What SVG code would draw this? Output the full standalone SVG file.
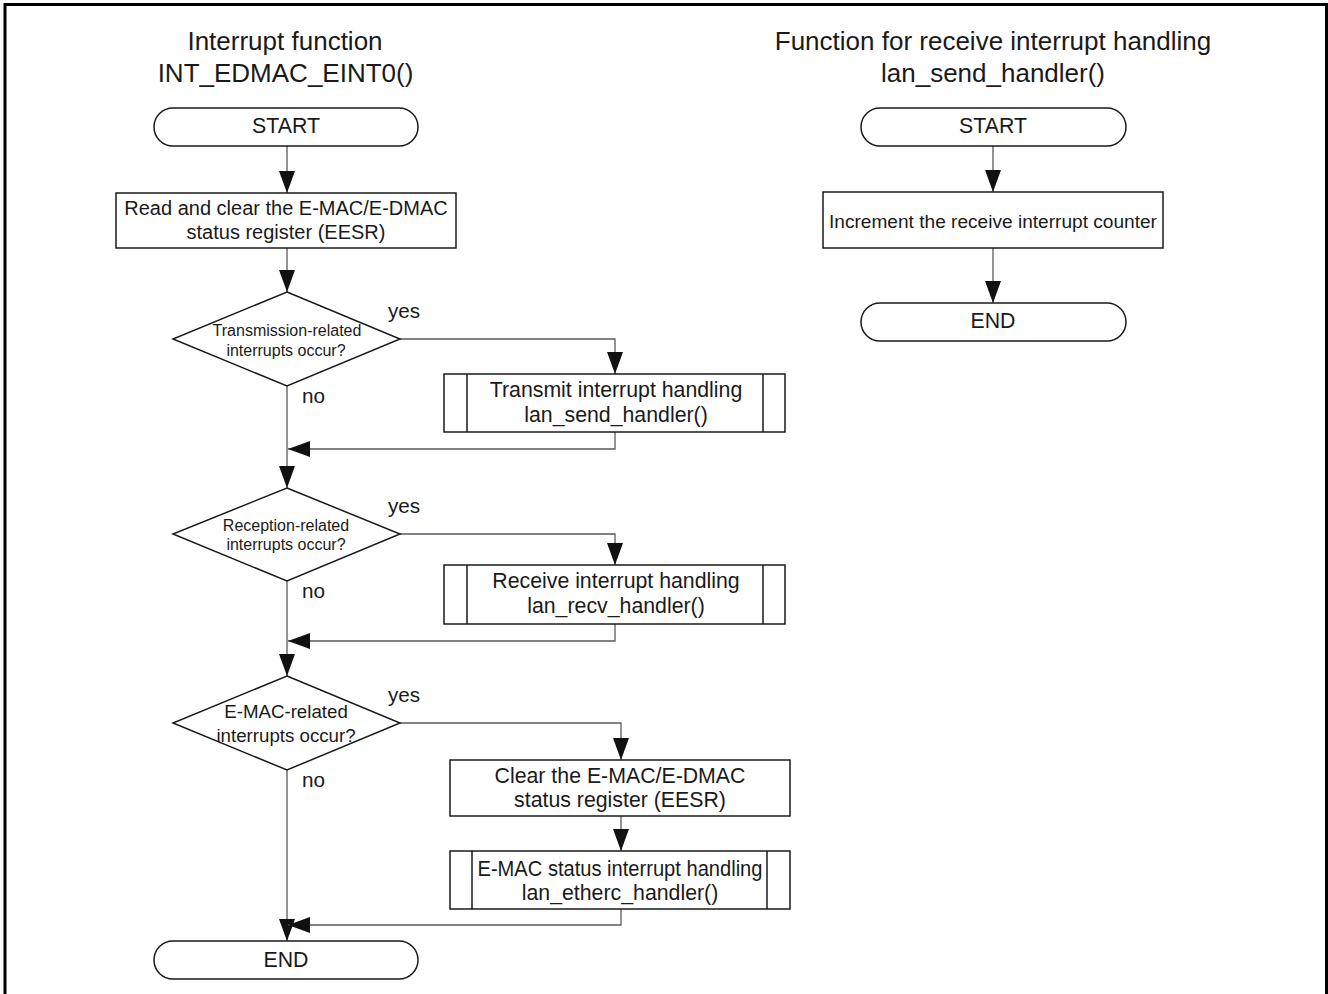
<svg xmlns="http://www.w3.org/2000/svg" width="1328" height="994" viewBox="0 0 1328 994">
  <style>
    text { font-family: "Liberation Sans", Arial, sans-serif; fill: #1a1a1a; text-anchor: middle; }
    .title { font-size: 26px; }
    .lbl { font-size: 21.3px; }
    .lbl20 { font-size: 20px; }
    .small { font-size: 16px; }
    .mid { font-size: 18.7px; }
    .inc { font-size: 19.1px; }
    .yn { font-size: 20.7px; text-anchor: start; }
    .shape { fill: #fff; stroke: #1a1a1a; stroke-width: 1.5; }
    .conn { fill: none; stroke: #5a5a5a; stroke-width: 1.3; }
  </style>
  <defs>
    <marker id="ah" viewBox="0 0 22 16" refX="22" refY="8" markerWidth="22" markerHeight="16" markerUnits="userSpaceOnUse" orient="auto">
      <path d="M0,0 L22,8 L0,16 Z" fill="#111"/>
    </marker>
  </defs>

  <rect width="1328" height="994" fill="#fff"/>
  <!-- outer frame, open at the bottom -->
  <path d="M5,994 V4.5 H1326.5 V994" fill="none" stroke="#000" stroke-width="3"/>

  <!-- titles -->
  <text class="title" x="285" y="50">Interrupt function</text>
  <text class="title" x="285.5" y="82">INT_EDMAC_EINT0()</text>
  <text class="title" x="993" y="50">Function for receive interrupt handling</text>
  <text class="title" x="993" y="82">lan_send_handler()</text>

  <!-- connectors -->
  <g id="connectors">
    <path class="conn" d="M287,146 V193" marker-end="url(#ah)"/>
    <path class="conn" d="M287,248 V292" marker-end="url(#ah)"/>
    <path class="conn" d="M400,339 H615 V374" marker-end="url(#ah)"/>
    <path class="conn" d="M287,386 V488" marker-end="url(#ah)"/>
    <path class="conn" d="M615,432 V449 H288" marker-end="url(#ah)"/>
    <path class="conn" d="M400,534 H615 V565" marker-end="url(#ah)"/>
    <path class="conn" d="M287,581 V676" marker-end="url(#ah)"/>
    <path class="conn" d="M615,624 V641 H288" marker-end="url(#ah)"/>
    <path class="conn" d="M400,723 H621 V760" marker-end="url(#ah)"/>
    <path class="conn" d="M621,816 V851" marker-end="url(#ah)"/>
    <path class="conn" d="M287,770 V941" marker-end="url(#ah)"/>
    <path class="conn" d="M621,909 V925 H288" marker-end="url(#ah)"/>
    <path class="conn" d="M993,146 V192" marker-end="url(#ah)"/>
    <path class="conn" d="M993,248 V303" marker-end="url(#ah)"/>
  </g>

  <!-- main interrupt routine -->
  <g id="start1">
    <rect class="shape" x="154" y="108" width="264" height="38" rx="19"/>
    <text class="lbl" x="286" y="133">START</text>
  </g>
  <g id="read-clear">
    <rect class="shape" x="116" y="193" width="340" height="55"/>
    <text class="lbl20" x="286" y="215">Read and clear the E-MAC/E-DMAC</text>
    <text class="lbl20" x="286" y="239">status register (EESR)</text>
  </g>
  <g id="dec-tx">
    <polygon class="shape" points="287,292 400,339 287,386 173,339"/>
    <text class="small" x="287" y="336">Transmission-related</text>
    <text class="small" x="286" y="356">interrupts occur?</text>
    <text class="yn" x="388" y="318">yes</text>
    <text class="yn" x="302" y="403">no</text>
  </g>
  <g id="tx-handler">
    <rect class="shape" x="444" y="374" width="341" height="58"/>
    <path class="shape" d="M467,374 V432 M763,374 V432"/>
    <text class="lbl" x="616" y="397">Transmit interrupt handling</text>
    <text class="lbl" x="616" y="422">lan_send_handler()</text>
  </g>
  <g id="dec-rx">
    <polygon class="shape" points="287,488 400,534 287,581 173,534"/>
    <text class="small" x="286" y="531">Reception-related</text>
    <text class="small" x="286" y="550">interrupts occur?</text>
    <text class="yn" x="388" y="513">yes</text>
    <text class="yn" x="302" y="598">no</text>
  </g>
  <g id="rx-handler">
    <rect class="shape" x="444" y="565" width="341" height="59"/>
    <path class="shape" d="M467,565 V624 M763,565 V624"/>
    <text class="lbl" x="616" y="588">Receive interrupt handling</text>
    <text class="lbl" x="616" y="613">lan_recv_handler()</text>
  </g>
  <g id="dec-emac">
    <polygon class="shape" points="287,676 400,723 287,770 173,723"/>
    <text class="mid" x="286" y="718">E-MAC-related</text>
    <text class="mid" x="286" y="742">interrupts occur?</text>
    <text class="yn" x="388" y="702">yes</text>
    <text class="yn" x="302" y="787">no</text>
  </g>
  <g id="clear-eesr">
    <rect class="shape" x="450" y="760" width="340" height="56"/>
    <text class="lbl" x="620" y="783">Clear the E-MAC/E-DMAC</text>
    <text class="lbl" x="620" y="807">status register (EESR)</text>
  </g>
  <g id="emac-handler">
    <rect class="shape" x="450" y="851" width="340" height="58"/>
    <path class="shape" d="M472,851 V909 M767,851 V909"/>
    <text class="lbl" x="620" y="876" textLength="285" lengthAdjust="spacingAndGlyphs">E-MAC status interrupt handling</text>
    <text class="lbl" x="620" y="900">lan_etherc_handler()</text>
  </g>
  <g id="end1">
    <rect class="shape" x="154" y="941" width="264" height="38" rx="19"/>
    <text class="lbl" x="286" y="967">END</text>
  </g>

  <!-- receive interrupt counter routine -->
  <g id="start2">
    <rect class="shape" x="861" y="108" width="265" height="38" rx="19"/>
    <text class="lbl" x="993" y="133">START</text>
  </g>
  <g id="increment">
    <rect class="shape" x="823" y="192" width="340" height="56"/>
    <text class="inc" x="993" y="228">Increment the receive interrupt counter</text>
  </g>
  <g id="end2">
    <rect class="shape" x="861" y="303" width="265" height="38" rx="19"/>
    <text class="lbl" x="993" y="328">END</text>
  </g>
</svg>
